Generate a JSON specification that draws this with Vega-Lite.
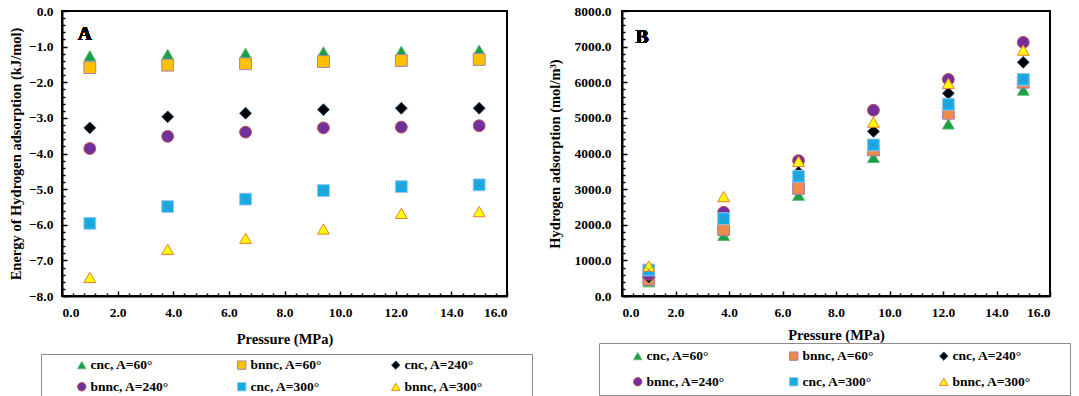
{
  "$schema": "https://vega.github.io/schema/vega-lite/v6.json",
  "padding": {"left": 7, "top": 3, "right": 0, "bottom": 0},
  "background": "white",
  "spacing": 12,
  "datasets": {
    "energy": [
      {"p": 1.0, "v": -1.26, "series": "cnc, A=60°"},
      {"p": 3.8, "v": -1.22, "series": "cnc, A=60°"},
      {"p": 6.6, "v": -1.19, "series": "cnc, A=60°"},
      {"p": 9.4, "v": -1.15, "series": "cnc, A=60°"},
      {"p": 12.2, "v": -1.13, "series": "cnc, A=60°"},
      {"p": 15.0, "v": -1.10, "series": "cnc, A=60°"},
      {"p": 1.0, "v": -1.59, "series": "bnnc, A=60°"},
      {"p": 3.8, "v": -1.52, "series": "bnnc, A=60°"},
      {"p": 6.6, "v": -1.48, "series": "bnnc, A=60°"},
      {"p": 9.4, "v": -1.42, "series": "bnnc, A=60°"},
      {"p": 12.2, "v": -1.39, "series": "bnnc, A=60°"},
      {"p": 15.0, "v": -1.36, "series": "bnnc, A=60°"},
      {"p": 1.0, "v": -3.28, "series": "cnc, A=240°"},
      {"p": 3.8, "v": -2.97, "series": "cnc, A=240°"},
      {"p": 6.6, "v": -2.87, "series": "cnc, A=240°"},
      {"p": 9.4, "v": -2.77, "series": "cnc, A=240°"},
      {"p": 12.2, "v": -2.73, "series": "cnc, A=240°"},
      {"p": 15.0, "v": -2.73, "series": "cnc, A=240°"},
      {"p": 1.0, "v": -3.86, "series": "bnnc, A=240°"},
      {"p": 3.8, "v": -3.52, "series": "bnnc, A=240°"},
      {"p": 6.6, "v": -3.40, "series": "bnnc, A=240°"},
      {"p": 9.4, "v": -3.28, "series": "bnnc, A=240°"},
      {"p": 12.2, "v": -3.26, "series": "bnnc, A=240°"},
      {"p": 15.0, "v": -3.22, "series": "bnnc, A=240°"},
      {"p": 1.0, "v": -5.96, "series": "cnc, A=300°"},
      {"p": 3.8, "v": -5.49, "series": "cnc, A=300°"},
      {"p": 6.6, "v": -5.28, "series": "cnc, A=300°"},
      {"p": 9.4, "v": -5.04, "series": "cnc, A=300°"},
      {"p": 12.2, "v": -4.93, "series": "cnc, A=300°"},
      {"p": 15.0, "v": -4.88, "series": "cnc, A=300°"},
      {"p": 1.0, "v": -7.48, "series": "bnnc, A=300°"},
      {"p": 3.8, "v": -6.69, "series": "bnnc, A=300°"},
      {"p": 6.6, "v": -6.38, "series": "bnnc, A=300°"},
      {"p": 9.4, "v": -6.12, "series": "bnnc, A=300°"},
      {"p": 12.2, "v": -5.68, "series": "bnnc, A=300°"},
      {"p": 15.0, "v": -5.63, "series": "bnnc, A=300°"}
    ],
    "adsorption": [
      {"p": 1.0, "v": 400, "series": "cnc, A=60°"},
      {"p": 3.8, "v": 1700, "series": "cnc, A=60°"},
      {"p": 6.6, "v": 2830, "series": "cnc, A=60°"},
      {"p": 9.4, "v": 3890, "series": "cnc, A=60°"},
      {"p": 12.2, "v": 4830, "series": "cnc, A=60°"},
      {"p": 15.0, "v": 5780, "series": "cnc, A=60°"},
      {"p": 1.0, "v": 470, "series": "bnnc, A=60°"},
      {"p": 3.8, "v": 1860, "series": "bnnc, A=60°"},
      {"p": 6.6, "v": 3020, "series": "bnnc, A=60°"},
      {"p": 9.4, "v": 4100, "series": "bnnc, A=60°"},
      {"p": 12.2, "v": 5130, "series": "bnnc, A=60°"},
      {"p": 15.0, "v": 6000, "series": "bnnc, A=60°"},
      {"p": 1.0, "v": 530, "series": "cnc, A=240°"},
      {"p": 3.8, "v": 2200, "series": "cnc, A=240°"},
      {"p": 6.6, "v": 3470, "series": "cnc, A=240°"},
      {"p": 9.4, "v": 4620, "series": "cnc, A=240°"},
      {"p": 12.2, "v": 5690, "series": "cnc, A=240°"},
      {"p": 15.0, "v": 6560, "series": "cnc, A=240°"},
      {"p": 1.0, "v": 610, "series": "bnnc, A=240°"},
      {"p": 3.8, "v": 2350, "series": "bnnc, A=240°"},
      {"p": 6.6, "v": 3800, "series": "bnnc, A=240°"},
      {"p": 9.4, "v": 5215, "series": "bnnc, A=240°"},
      {"p": 12.2, "v": 6080, "series": "bnnc, A=240°"},
      {"p": 15.0, "v": 7120, "series": "bnnc, A=240°"},
      {"p": 1.0, "v": 730, "series": "cnc, A=300°"},
      {"p": 3.8, "v": 2170, "series": "cnc, A=300°"},
      {"p": 6.6, "v": 3360, "series": "cnc, A=300°"},
      {"p": 9.4, "v": 4240, "series": "cnc, A=300°"},
      {"p": 12.2, "v": 5380, "series": "cnc, A=300°"},
      {"p": 15.0, "v": 6080, "series": "cnc, A=300°"},
      {"p": 1.0, "v": 840, "series": "bnnc, A=300°"},
      {"p": 3.8, "v": 2790, "series": "bnnc, A=300°"},
      {"p": 6.6, "v": 3780, "series": "bnnc, A=300°"},
      {"p": 9.4, "v": 4880, "series": "bnnc, A=300°"},
      {"p": 12.2, "v": 5970, "series": "bnnc, A=300°"},
      {"p": 15.0, "v": 6900, "series": "bnnc, A=300°"}
    ]
  },
  "hconcat": [
    {
      "width": 445,
      "height": 285,
      "data": {"name": "energy"},
      "resolve": {"axis": {"x": "independent", "y": "independent"}},
      "layer": [
        {
          "mark": {"type": "point", "filled": true, "opacity": 1, "size": 140, "strokeWidth": 1},
          "encoding": {
            "x": {"field": "p", "type": "quantitative", "title": "Pressure (MPa)",
                  "scale": {"domain": [0, 16], "nice": false},
                  "axis": {"orient": "bottom", "values": [0, 2, 4, 6, 8, 10, 12, 14, 16], "format": ".1f", "labelPadding": 14, "titlePadding": 14}},
            "y": {"field": "v", "type": "quantitative", "title": "Energy of Hydrogen adsorption (kJ/mol)",
                  "scale": {"domain": [-8, 0], "nice": false},
                  "axis": {"orient": "left", "values": [0, -1, -2, -3, -4, -5, -6, -7, -8], "format": ".1f", "labelPadding": 14, "titlePadding": 5}},
            "shape": {"field": "series", "type": "nominal",
                      "scale": {"domain": ["cnc, A=60°", "bnnc, A=60°", "cnc, A=240°", "bnnc, A=240°", "cnc, A=300°", "bnnc, A=300°"],
                                "range": ["triangle-up", "square", "diamond", "circle", "square", "triangle-up"]},
                      "legend": {"title": " ", "titleOrient": "right", "titlePadding": 45, "padding": 4, "rowPadding": 7, "legendX": -21, "legendY": 343}},
            "color": {"field": "series", "type": "nominal",
                      "scale": {"domain": ["cnc, A=60°", "bnnc, A=60°", "cnc, A=240°", "bnnc, A=240°", "cnc, A=300°", "bnnc, A=300°"],
                                "range": ["#1A9F48", "#FFC000", "#000000", "#7030A0", "#12ADE8", "#FFFF00"]},
                      "legend": {"title": " ", "titleOrient": "right", "titlePadding": 45, "padding": 4, "rowPadding": 7, "legendX": -21, "legendY": 343}},
            "stroke": {"field": "series", "type": "nominal",
                      "scale": {"domain": ["cnc, A=60°", "bnnc, A=60°", "cnc, A=240°", "bnnc, A=240°", "cnc, A=300°", "bnnc, A=300°"],
                                "range": ["#5DB870", "#9E86B5", "#1F4E79", "#C0504D", "#9DC3E6", "#ED7D31"]},
                      "legend": {"title": " ", "titleOrient": "right", "titlePadding": 45, "padding": 4, "rowPadding": 7, "legendX": -21, "legendY": 343}}
          }
        },
        {
          "transform": [{"filter": "datum.series === 'cnc, A=300°'"}],
          "mark": {"type": "point", "filled": false, "shape": "M-1,-1L1,1M-1,1L1,-1", "size": 28, "stroke": "#5F7F99", "strokeWidth": 0.8, "opacity": 1},
          "encoding": {
            "x": {"field": "p", "type": "quantitative", "axis": null},
            "y": {"field": "v", "type": "quantitative", "axis": null}
          }
        },
        {
          "mark": {"type": "point", "opacity": 0},
          "encoding": {
            "x": {"field": "p", "type": "quantitative",
                  "axis": {"orient": "bottom", "title": null, "labels": false, "domain": false, "tickSize": -3, "tickWidth": 1.5,
                           "values": [0.4, 0.8, 1.2, 1.6, 2.4, 2.8, 3.2, 3.6, 4.4, 4.8, 5.2, 5.6, 6.4, 6.8, 7.2, 7.6, 8.4, 8.8, 9.2, 9.6, 10.4, 10.8, 11.2, 11.6, 12.4, 12.8, 13.2, 13.6, 14.4, 14.8, 15.2, 15.6]}},
            "y": {"field": "v", "type": "quantitative",
                  "axis": {"orient": "left", "title": null, "labels": false, "domain": false, "tickSize": -3, "tickWidth": 1.5,
                           "values": [-0.2, -0.4, -0.6, -0.8, -1.2, -1.4, -1.6, -1.8, -2.2, -2.4, -2.6, -2.8, -3.2, -3.4, -3.6, -3.8, -4.2, -4.4, -4.6, -4.8, -5.2, -5.4, -5.6, -5.8, -6.2, -6.4, -6.6, -6.8, -7.2, -7.4, -7.6, -7.8]}}
          }
        },
        {
          "mark": {"type": "text", "text": "A", "font": "Liberation Serif", "fontWeight": "bold", "fontSize": 19, "color": "black"},
          "encoding": {
            "x": {"datum": 0.82, "type": "quantitative", "axis": null},
            "y": {"datum": -0.65, "type": "quantitative", "axis": null}
          }
        }
      ]
    },
    {
      "width": 428,
      "height": 285,
      "data": {"name": "adsorption"},
      "resolve": {"axis": {"x": "independent", "y": "independent"}},
      "layer": [
        {
          "mark": {"type": "point", "filled": true, "opacity": 1, "size": 140, "strokeWidth": 1},
          "encoding": {
            "x": {"field": "p", "type": "quantitative", "title": "Pressure (MPa)",
                  "scale": {"domain": [0, 16], "nice": false},
                  "axis": {"orient": "bottom", "values": [0, 2, 4, 6, 8, 10, 12, 14, 16], "format": ".1f", "labelPadding": 14, "titlePadding": 10}},
            "y": {"field": "v", "type": "quantitative", "title": "Hydrogen adsorption (mol/m³)",
                  "scale": {"domain": [0, 8000], "nice": false},
                  "axis": {"orient": "left", "values": [0, 1000, 2000, 3000, 4000, 5000, 6000, 7000, 8000], "format": ".1f", "labelPadding": 16, "titlePadding": 11}},
            "shape": {"field": "series", "type": "nominal",
                      "scale": {"domain": ["cnc, A=60°", "bnnc, A=60°", "cnc, A=240°", "bnnc, A=240°", "cnc, A=300°", "bnnc, A=300°"],
                                "range": ["triangle-up", "square", "diamond", "circle", "square", "triangle-up"]},
                      "legend": {"title": " ", "titleOrient": "right", "titlePadding": 33, "padding": 6, "rowPadding": 11, "symbolOffset": 26, "legendX": -23, "legendY": 332}},
            "color": {"field": "series", "type": "nominal",
                      "scale": {"domain": ["cnc, A=60°", "bnnc, A=60°", "cnc, A=240°", "bnnc, A=240°", "cnc, A=300°", "bnnc, A=300°"],
                                "range": ["#1A9F48", "#F08A4B", "#000000", "#7030A0", "#12ADE8", "#FFFF00"]},
                      "legend": {"title": " ", "titleOrient": "right", "titlePadding": 33, "padding": 6, "rowPadding": 11, "symbolOffset": 26, "legendX": -23, "legendY": 332}},
            "stroke": {"field": "series", "type": "nominal",
                      "scale": {"domain": ["cnc, A=60°", "bnnc, A=60°", "cnc, A=240°", "bnnc, A=240°", "cnc, A=300°", "bnnc, A=300°"],
                                "range": ["#5DB870", "#A07FB0", "#1F4E79", "#C0504D", "#9DC3E6", "#ED7D31"]},
                      "legend": {"title": " ", "titleOrient": "right", "titlePadding": 33, "padding": 6, "rowPadding": 11, "symbolOffset": 26, "legendX": -23, "legendY": 332}}
          }
        },
        {
          "transform": [{"filter": "datum.series === 'cnc, A=300°'"}],
          "mark": {"type": "point", "filled": false, "shape": "M-1,-1L1,1M-1,1L1,-1", "size": 28, "stroke": "#5F7F99", "strokeWidth": 0.8, "opacity": 1},
          "encoding": {
            "x": {"field": "p", "type": "quantitative", "axis": null},
            "y": {"field": "v", "type": "quantitative", "axis": null}
          }
        },
        {
          "mark": {"type": "point", "opacity": 0},
          "encoding": {
            "x": {"field": "p", "type": "quantitative",
                  "axis": {"orient": "bottom", "title": null, "labels": false, "domain": false, "tickSize": -3, "tickWidth": 1.5,
                           "values": [0.4, 0.8, 1.2, 1.6, 2.4, 2.8, 3.2, 3.6, 4.4, 4.8, 5.2, 5.6, 6.4, 6.8, 7.2, 7.6, 8.4, 8.8, 9.2, 9.6, 10.4, 10.8, 11.2, 11.6, 12.4, 12.8, 13.2, 13.6, 14.4, 14.8, 15.2, 15.6]}},
            "y": {"field": "v", "type": "quantitative",
                  "axis": {"orient": "left", "title": null, "labels": false, "domain": false, "tickSize": -3, "tickWidth": 1.5,
                           "values": [200, 400, 600, 800, 1200, 1400, 1600, 1800, 2200, 2400, 2600, 2800, 3200, 3400, 3600, 3800, 4200, 4400, 4600, 4800, 5200, 5400, 5600, 5800, 6200, 6400, 6600, 6800, 7200, 7400, 7600, 7800]}}
          }
        },
        {
          "mark": {"type": "text", "text": "B", "font": "Liberation Serif", "fontWeight": "bold", "fontSize": 19, "color": "black"},
          "encoding": {
            "x": {"datum": 0.75, "type": "quantitative", "axis": null},
            "y": {"datum": 7280, "type": "quantitative", "axis": null}
          }
        }
      ]
    }
  ],
  "resolve": {"scale": {"color": "independent", "shape": "independent", "stroke": "independent"}},
  "config": {
    "font": "Liberation Serif",
    "view": {"stroke": "black", "strokeWidth": 2},
    "axis": {
      "labelFont": "Liberation Serif", "labelFontWeight": "bold", "labelFontSize": 13.5, "labelColor": "black",
      "titleFont": "Liberation Serif", "titleFontWeight": "bold", "titleFontSize": 14.5, "titleColor": "black",
      "grid": false, "domainColor": "black", "domainWidth": 2, "tickColor": "black", "tickWidth": 1.5, "tickSize": -5
    },
    "legend": {
      "orient": "none", "direction": "horizontal", "columns": 3, "labelFont": "Liberation Serif", "labelFontWeight": "bold", "labelFontSize": 13.5,
      "labelColor": "black", "strokeColor": "#8C8C8C", "symbolSize": 70, "symbolOffset": 30, "columnPadding": 36,
      "labelOffset": 2, "symbolStrokeWidth": 1, "labelLimit": 200
    }
  }
}
